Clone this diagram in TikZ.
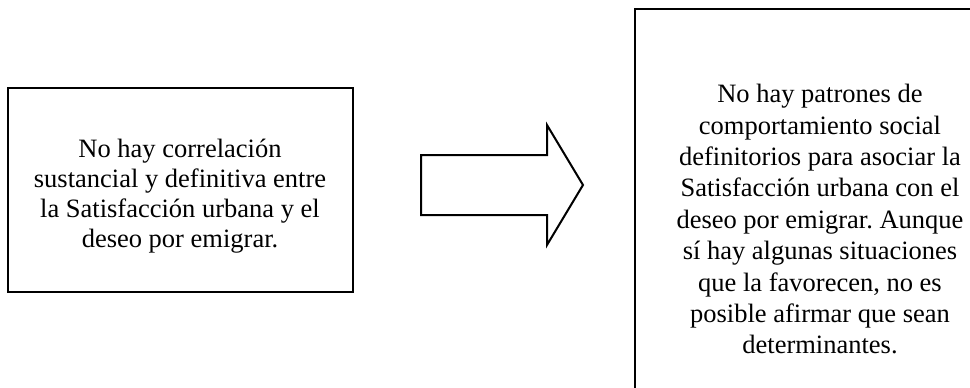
\documentclass[tikz,border=0pt]{standalone}
\usepackage{fontspec}
\setmainfont{Liberation Serif}
\usetikzlibrary{calc}
\frenchspacing
\tikzset{txtbox/.style={draw,line width=2pt,align=center,inner sep=0pt,
  font=\fontsize{26.5}{30}\selectfont}}
\tikzset{bigarrow/.style={draw,line width=2pt,line join=miter}}

\begin{document}
\begin{tikzpicture}[x=1pt,y=-1pt]
  \useasboundingbox (0,0) rectangle (970,388);
  \begin{scope}
    \clip (0,0) rectangle (970,388);
    \node[txtbox,minimum width=345pt,minimum height=204pt] (cause) at (180,190)
      {\rule{0pt}{30pt}No hay correlación\\sustancial y definitiva entre\\la Satisfacción urbana y el\\deseo por emigrar.};
    \node[txtbox,minimum width=370pt,minimum height=410pt,
      font=\fontsize{26.5}{31.4}\selectfont] (result) at (820,214)
      {\rule{0pt}{29pt}No hay patrones de\\comportamiento social\\definitorios para asociar la\\Satisfacción urbana con el\\deseo por emigrar. Aunque\\sí hay algunas situaciones\\que la favorecen, no es\\posible afirmar que sean\\determinantes.};
  \end{scope}
  % block arrow between the boxes
  \coordinate (tail) at (421,185);
  \coordinate (tip) at (583,185);
  \draw[bigarrow] ($(tail)+(0,-30)$) -- (547,155) -- (547,125) -- (tip)
    -- (547,245) -- (547,215) -- ($(tail)+(0,30)$) -- cycle;
\end{tikzpicture}
\end{document}
